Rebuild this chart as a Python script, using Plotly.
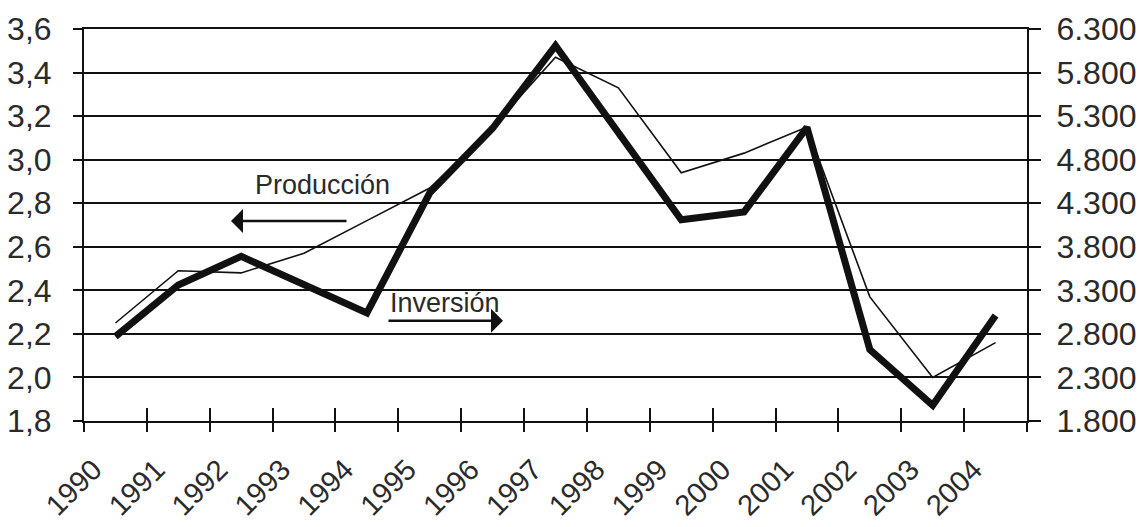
import plotly.graph_objects as go

years = list(range(1990, 2005))
year_labels = [str(y) for y in years]
produccion = [2.25, 2.49, 2.48, 2.57, 2.72, 2.87, 3.15, 3.47, 3.33, 2.94, 3.03, 3.15, 2.37, 2.00, 2.16]
inversion = [2770, 3360, 3690, 3360, 3040, 4420, 5160, 6110, 5100, 4110, 4200, 5170, 2620, 1980, 3010]

left_ticks = [1.8, 2.0, 2.2, 2.4, 2.6, 2.8, 3.0, 3.2, 3.4, 3.6]
right_ticks = [1800, 2300, 2800, 3300, 3800, 4300, 4800, 5300, 5800, 6300]

FONT = "Liberation Sans, Arial, sans-serif"
INK = "#111111"
TXT = "#2a2a2a"

fig = go.Figure()
fig.add_trace(go.Scatter(x=year_labels, y=inversion, mode="lines", name="Inversión",
                         line=dict(color=INK, width=7), yaxis="y", xaxis="x"))
fig.add_trace(go.Scatter(x=year_labels, y=produccion, mode="lines", name="Producción",
                         line=dict(color=INK, width=1.6), yaxis="y2", xaxis="x2"))

fig.update_layout(
    width=1143, height=527,
    margin=dict(l=84, r=116, t=29, b=106, pad=0),
    paper_bgcolor="white", plot_bgcolor="white",
    showlegend=False,
    separators=",.",
    font=dict(family=FONT, color=TXT, size=28),
    xaxis=dict(type="category", range=[-0.5, 14.5], tickson="boundaries",
               ticks="outside", ticklen=9, tickwidth=2, tickcolor=INK,
               tickangle=-45, tickfont=dict(size=29, family=FONT, color=TXT),
               ticklabelshift=-22, ticklabelstandoff=18,
               showline=True, linewidth=2, linecolor=INK, mirror=True,
               showgrid=False, zeroline=False, automargin=False),
    xaxis2=dict(type="category", range=[-0.5, 14.5], overlaying="x", anchor="y2",
                side="bottom", tickson="boundaries", showticklabels=False,
                ticks="inside", ticklen=13, tickwidth=2, tickcolor=INK,
                showline=False, showgrid=False, zeroline=False, automargin=False),
    yaxis=dict(range=[1800, 6300], tickvals=right_ticks, tickformat=",.0f",
               side="right", showline=True, linewidth=2, linecolor=INK,
               ticks="outside", ticklen=12, tickwidth=2, tickcolor=INK,
               showgrid=True, gridcolor=INK, gridwidth=2, zeroline=False,
               automargin=False, ticklabelstandoff=9,
               tickfont=dict(size=32, family=FONT, color=TXT)),
    yaxis2=dict(range=[1.8, 3.6], tickvals=left_ticks, tickformat=".1f",
                overlaying="y", side="left", anchor="x",
                showline=True, linewidth=2, linecolor=INK,
                ticks="outside", ticklen=9, tickwidth=2, tickcolor=INK,
                showgrid=False, zeroline=False, automargin=False,
                ticklabelstandoff=15,
                tickfont=dict(size=32, family=FONT, color=TXT)),
    annotations=[
        dict(text="Producción", xref="paper", yref="paper", x=0.2524, y=0.602,
             xanchor="center", yanchor="middle",
             showarrow=False, font=dict(size=27, family=FONT, color=TXT)),
        dict(text="", xref="paper", yref="paper", x=0.1559, y=0.510,
             showarrow=True, ax=117, ay=0, arrowhead=1, arrowsize=1.6,
             arrowwidth=2.5, arrowcolor=INK),
        dict(text="Inversión", xref="paper", yref="paper", x=0.383, y=0.3000,
             xanchor="center", yanchor="middle",
             showarrow=False, font=dict(size=27, family=FONT, color=TXT)),
        dict(text="", xref="paper", yref="paper", x=0.4443, y=0.2559,
             showarrow=True, ax=-116, ay=0, arrowhead=1, arrowsize=1.6,
             arrowwidth=2.5, arrowcolor=INK),
    ],
)

fig.write_html(
    "out.html",
    config={"displayModeBar": False},
    post_script="document.body.style.margin='0';document.body.style.overflow='hidden';",
)
